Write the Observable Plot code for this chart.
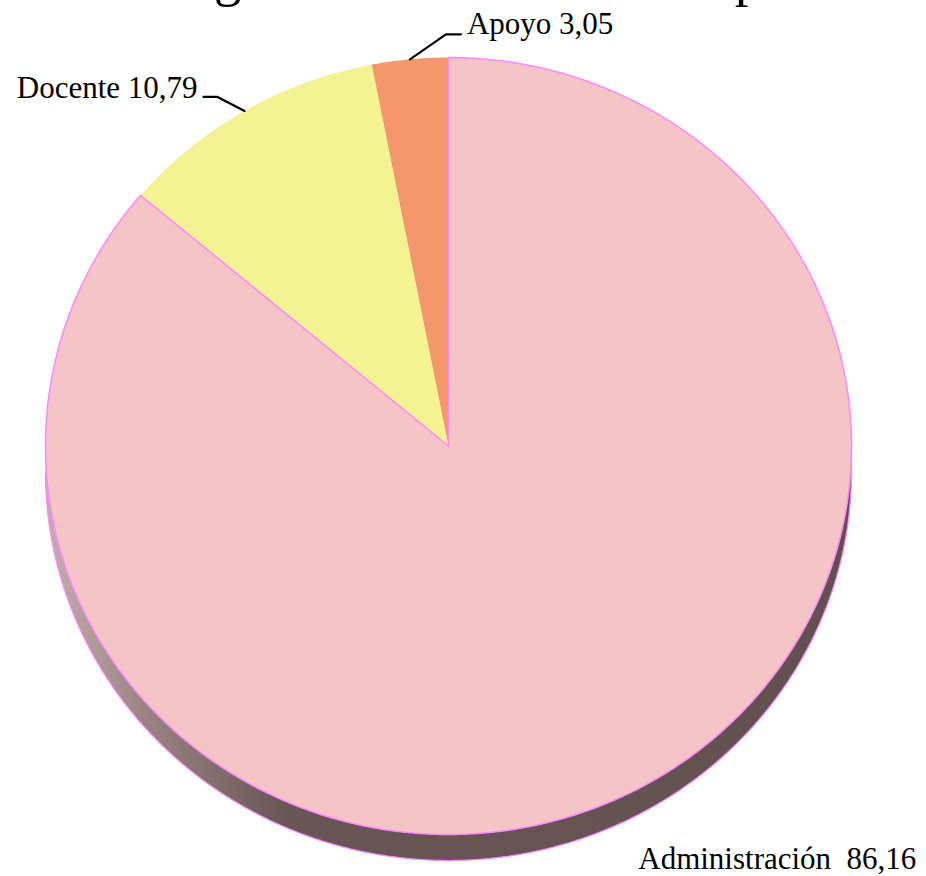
<!DOCTYPE html>
<html>
<head>
<meta charset="utf-8">
<script src="https://cdn.jsdelivr.net/npm/d3@7"></script>
<script src="https://cdn.jsdelivr.net/npm/@observablehq/plot@0.6"></script>
<style>
  html, body { margin: 0; padding: 0; background: #ffffff; }
  #chart svg { display: block; overflow: hidden; }
</style>
</head>
<body>
<div id="chart"></div>
<script>
// ---- data ----
const title = "Programa de Educación Superior";
const categories = ["Administración", "Docente", "Apoyo"];
const values = [86.16, 10.79, 3.05];
const valueLabels = ["86,16", "10,79", "3,05"];
const separators = ["\u00a0 ", " ", " "];
const colors = ["#f4c4c6", "#f3f394", "#f4976a"];

// ---- layout ----
const W = 926, H = 876;
const X0 = 45, X1 = 851, Y0 = 57, Y1 = 834;   // top-face ellipse bounds
const rx = (X1 - X0) / 2, ry = (Y1 - Y0) / 2;
const depth = 26;                               // px thickness of the 3D side
const FONT = "'Liberation Serif', 'Times New Roman', serif";
// label offsets (px) relative to the slice's mid-angle point on the rim
const labelLayout = {
  "Administración": {leader: null, text: [20, 71], anchor: "start"},
  "Docente": {leader: [[0, 0], [-27, -14], [-41, -14]], text: [-47, -13], anchor: "end"},
  "Apoyo": {leader: [[0, 0], [36, -25], [51, -25]], text: [57, -25], anchor: "start"}
};

// ---- geometry (data space: unit ellipse, angle clockwise from 12 o'clock) ----
const data = categories.map((c, i) => ({category: c, value: values[i], label: c + separators[i] + valueLabels[i]}));
const arcs = d3.pie().sort(null).value(d => d.value)(data);
const STEP = Math.PI / 720;
const rim = (a, dy = 0) => ({x: Math.sin(a), y: -Math.cos(a) + dy});

const slicePts = [];
for (const a of arcs) {
  slicePts.push({category: a.data.category, x: 0, y: 0});
  for (let t = a.startAngle; t < a.endAngle; t += STEP) slicePts.push({category: a.data.category, ...rim(t)});
  slicePts.push({category: a.data.category, ...rim(a.endAngle)});
  slicePts.push({category: a.data.category, x: 0, y: 0});
}
const adminPts = slicePts.filter(d => d.category === categories[0]);

const dUnit = depth / ry;
const sidePts = [];
for (let t = Math.PI / 2; t <= 3 * Math.PI / 2 + 1e-9; t += STEP) sidePts.push(rim(t, dUnit));
for (let t = 3 * Math.PI / 2; t >= Math.PI / 2 - 1e-9; t -= STEP) sidePts.push(rim(t, 0));
const sideEdge = [];
for (let t = Math.PI / 2; t <= 3 * Math.PI / 2 + 1e-9; t += STEP) sideEdge.push(rim(t, dUnit));

const leaders = [], labels = [];
for (const a of arcs) {
  const c = a.data.category, L = labelLayout[c];
  const m = rim((a.startAngle + a.endAngle) / 2);
  if (L.leader) for (const [px, py] of L.leader) leaders.push({category: c, x: m.x + px / rx, y: m.y + py / ry});
  labels.push({label: a.data.label, x: m.x + L.text[0] / rx, y: m.y + L.text[1] / ry, anchor: L.anchor});
}

const plot = Plot.plot({
  width: W, height: H, margin: 0,
  style: {background: "#ffffff"},
  x: {domain: [-1, 1], range: [X0, X1], axis: null},
  y: {domain: [-1, 1], range: [Y0, Y1], axis: null},
  color: {domain: categories, range: colors},
  marks: [
    Plot.line(sidePts, {x: "x", y: "y", fill: "url(#sideGrad)", stroke: "none", curve: "linear"}),
    Plot.line(sideEdge, {x: "x", y: "y", stroke: "#ff88ff", strokeWidth: 1.2}),
    Plot.line(slicePts, {x: "x", y: "y", z: "category", fill: "category", stroke: "none"}),
    Plot.line(adminPts, {x: "x", y: "y", stroke: "#ff88ff", strokeWidth: 1.5, strokeLinejoin: "round"}),
    Plot.line(leaders, {x: "x", y: "y", z: "category", stroke: "#000000", strokeWidth: 2.2}),
    Plot.text(labels.filter(d => d.anchor === "start"), {x: "x", y: "y", text: "label", textAnchor: "start", lineAnchor: "bottom", fontSize: 31, fontFamily: FONT, fill: "#000000"}),
    Plot.text(labels.filter(d => d.anchor === "end"), {x: "x", y: "y", text: "label", textAnchor: "end", lineAnchor: "bottom", fontSize: 31, fontFamily: FONT, fill: "#000000"}),
    Plot.text([title], {frameAnchor: "top-left", dx: 137, dy: -6, textAnchor: "start", lineAnchor: "bottom", fontSize: 55, fontFamily: FONT, fill: "#000000"})
  ]
});

// gradient for the pie's side
const ns = "http://www.w3.org/2000/svg";
const defs = document.createElementNS(ns, "defs");
defs.innerHTML = `<linearGradient id="sideGrad" x1="0" y1="0" x2="1" y2="0">
  <stop offset="0" stop-color="#c4aeae"/>
  <stop offset="0.12" stop-color="#9c8484"/>
  <stop offset="0.3" stop-color="#6a5656"/>
  <stop offset="1" stop-color="#625050"/>
</linearGradient>`;
plot.insertBefore(defs, plot.firstChild);
document.getElementById("chart").appendChild(plot);
</script>
</body>
</html>
